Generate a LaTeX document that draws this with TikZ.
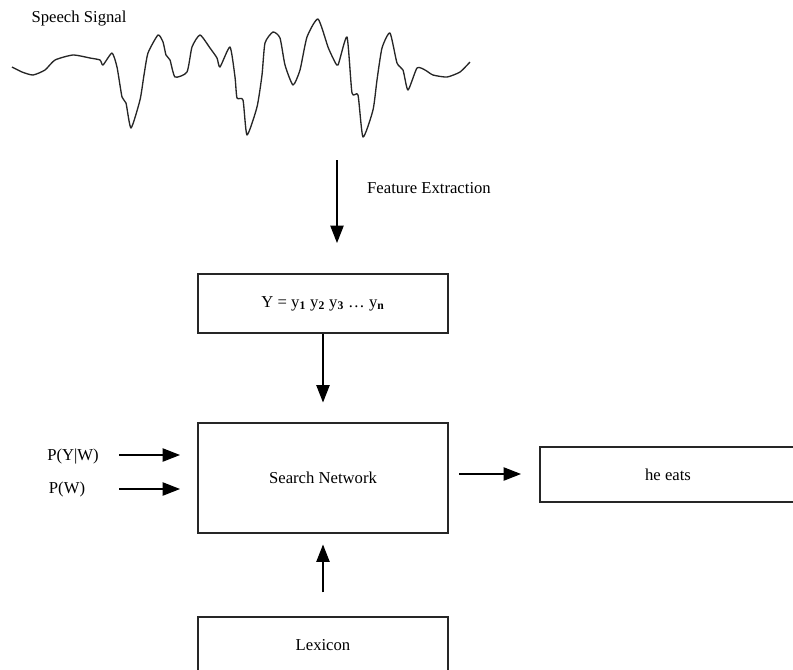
\documentclass[tikz,border=0pt]{standalone}
\usepackage{fontspec}
\setmainfont{Liberation Serif}
\usetikzlibrary{arrows.meta}
\begin{document}
\begin{tikzpicture}[x=0.75pt,y=-0.75pt,
  every node/.style={font=\fontsize{12.5}{15}\selectfont},
  blockbox/.style={draw=black!85,line width=0.8pt,rectangle,inner sep=0pt},
  arr/.style={draw=black,line width=0.8pt,-{Triangle[length=13pt,width=10pt]}},
  label/.style={inner sep=0pt}]
\useasboundingbox (0,0) rectangle (793,669);

% speech waveform
\node[label] (sig) at (79,19) {Speech Signal};
\draw[line width=1pt,black!85,line join=round]
  plot[smooth,tension=0.35] coordinates {
  (12,67) (22,72) (33,75) (45,70) (55,60) (73,55) (90,58) (100,60) (103,65)
  (112,53) (117,67) (122,97) (126,103) (131,128) (140,100) (144,75) (148,53)
  (158,35) (163,42) (166,55) (170,60) (175,77) (187,72) (192,47) (200,35)
  (210,48) (217,58) (220,67) (230,47) (235,77) (237,98) (243,100) (247,135)
  (257,107) (262,75) (265,43) (273,32) (280,38) (285,65) (293,85) (300,70)
  (307,37) (318,19) (328,47) (333,58) (338,65) (347,37) (352,93) (358,95)
  (363,137) (373,110) (377,80) (382,48) (390,33) (397,63) (403,70) (408,90)
  (417,68) (425,70) (433,75) (447,77) (460,72) (470,62)};

% feature extraction step
\coordinate (fetop) at (337,160);
\coordinate (feend) at (337,243);
\draw[arr] (fetop) -- (feend);
\node[label] (felab) at (429,188) {Feature Extraction};

% observation sequence
\node[blockbox,minimum width=250*0.75pt,minimum height=59*0.75pt] (obs) at (323,303.5)
  {Y = y\textsubscript{\textbf{1}} y\textsubscript{\textbf{2}} y\textsubscript{\textbf{3}} \ldots\ y\textsubscript{\textbf{n}}};

% search network
\node[blockbox,minimum width=250*0.75pt,minimum height=110*0.75pt] (search) at (323,478) {Search Network};
\draw[arr,shorten >=15pt] (obs.south) -- (search.north);

% probabilities feeding the search
\node[label] (pyw) at (73,457) {P(Y|W)};
\node[label] (pw) at (67,489) {P(W)};
\coordinate (pywstart) at (119,455);
\coordinate (pywend) at (180,455);
\coordinate (pwstart) at (119,489);
\coordinate (pwend) at (180,489);
\draw[arr] (pywstart) -- (pywend);
\draw[arr] (pwstart) -- (pwend);

% recognised output
\node[blockbox,minimum width=256*0.75pt,minimum height=55*0.75pt] (out) at (668,474.5) {he eats};
\coordinate (outstart) at (459,474);
\coordinate (outend) at (521,474);
\draw[arr] (outstart) -- (outend);

% lexicon
\node[blockbox,minimum width=250*0.75pt,minimum height=56*0.75pt] (lex) at (323,645) {};
\node[label] (lextext) at (323,645) {Lexicon};
\draw[arr,shorten <=18pt,shorten >=8.25pt] (lex.north) -- (search.south);
\end{tikzpicture}
\end{document}
